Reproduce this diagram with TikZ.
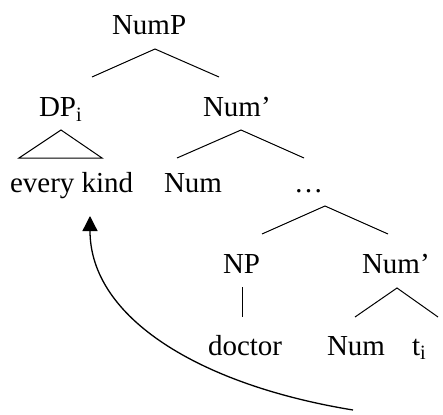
\documentclass[tikz,border=0pt]{standalone}
\usepackage{fontspec}
\setmainfont{Liberation Serif}
\usetikzlibrary{arrows.meta}
\tikzset{
  lbl/.style={anchor=base west, inner sep=0pt, outer sep=0pt, font=\fontsize{29}{32}\selectfont},
  br/.style={line width=1pt},
  mv/.style={line width=1.3pt, -{Triangle[length=15pt,width=15pt]}}
}
\begin{document}
\begin{tikzpicture}[x=1pt,y=-1pt]
\useasboundingbox (0,0) rectangle (443,414);
% labels
\node[lbl] (nump) at (112,35) {NumP};
\node[lbl] (dp) at (39,117) {DP\textsubscript{i}};
\node[lbl] (numbar1) at (203,117) {Num’};
\node[lbl] (every) at (10,192) {every kind};
\node[lbl] (num1) at (164,192) {Num};
\node[lbl] (dots) at (294,192) {…};
\node[lbl] (np) at (223,273) {NP};
\node[lbl] (numbar2) at (362,273) {Num’};
\node[lbl] (doctor) at (208,355) {doctor};
\node[lbl] (num2) at (327,355) {Num};
\node[lbl] (t) at (412,355) {t\textsubscript{i}};
% branch points
\coordinate (a1) at (155,49);  \coordinate (a1l) at (92,77);   \coordinate (a1r) at (219,77);
\coordinate (a2) at (61,130);  \coordinate (a2l) at (19,158);  \coordinate (a2r) at (102,158);
\coordinate (a3) at (241,130); \coordinate (a3l) at (177,158); \coordinate (a3r) at (304,158);
\coordinate (a4) at (325,206); \coordinate (a4l) at (262,234); \coordinate (a4r) at (388,234);
\coordinate (a5t) at (242,287); \coordinate (a5b) at (242,317);
\coordinate (a6) at (397,288); \coordinate (a6l) at (355,317); \coordinate (a6r) at (438,317);
\draw[br] (a1l) -- (a1) -- (a1r);
\draw[br] (a2l) -- (a2) -- (a2r) -- cycle;
\draw[br] (a3l) -- (a3) -- (a3r);
\draw[br] (a4l) -- (a4) -- (a4r);
\draw[br] (a5t) -- (a5b);
\draw[br] (a6l) -- (a6) -- (a6r);
% movement arrow
\coordinate (ms) at (353,410);
\coordinate (me) at (90,216);
\draw[mv] (ms) .. controls (200,385) and (90,318) .. (me);
\end{tikzpicture}
\end{document}
